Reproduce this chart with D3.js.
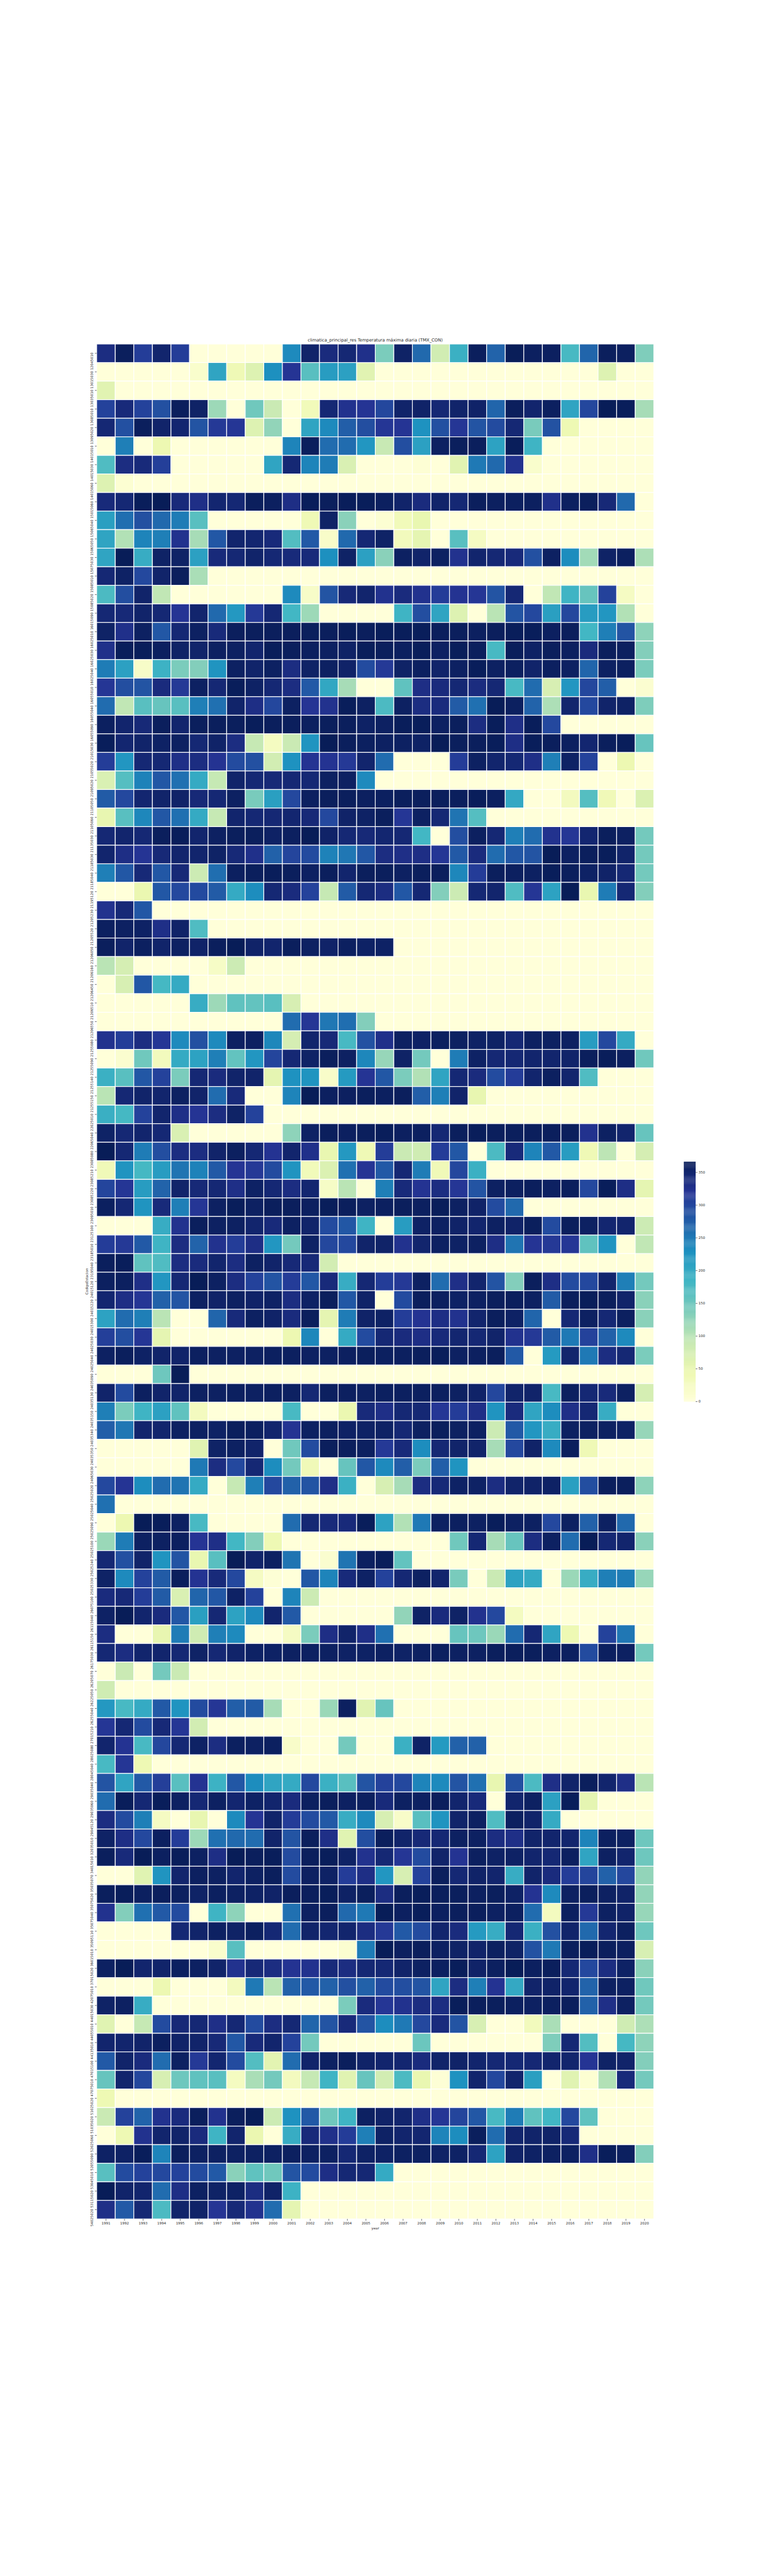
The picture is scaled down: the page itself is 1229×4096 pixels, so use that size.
<!DOCTYPE html>
<html><head><meta charset="utf-8">
<script src="https://cdn.jsdelivr.net/npm/d3@7"></script>
<style>html,body{margin:0;padding:0;background:#fff}svg{display:block}text{font-family:"DejaVu Sans",sans-serif;fill:#262626}</style>
</head><body><svg id="c"></svg>
<script>
const chartTitle = "climatica_principal_res Temperatura máxima diaria (TMX_CON)";
const yearLabels = [1991,1992,1993,1994,1995,1996,1997,1998,1999,2000,2001,2002,2003,2004,2005,2006,2007,2008,2009,2010,2011,2012,2013,2014,2015,2016,2017,2018,2019,2020];
const stationCodes = ["12045010","13015030","13035010","13085010","13095020","14015010","14015030","14015060","15015060","15065040","15065050","15075030","15085010","15085020","16015090","16025010","16025030","16025040","16055010","16055040","16055090","21015030","21055020","21095020","21105050","21105060","21135030","21185030","21185040","21195120","21205230","21205520","21206050","21206160","21206450","21206510","21206550","21255080","21255090","21255140","21255150","22025010","22065040","23085080","23085210","23085220","23095010","23125100","23185010","23195040","24015120","24015220","24015300","24025030","24025040","24035090","24035130","24035150","24035340","24035350","24065030","25025020","25025040","25025090","25025100","25025240","25025330","26075100","26115040","26115150","26175030","26205070","26225050","26255040","27015210","28025080","28045040","29035040","29035060","29045120","32035010","34015010","35035070","35075020","35075040","35095110","36015010","37015020","42075010","44015030","44055010","44135010","47015100","47075010","51025020","51035020","52025060","52055090","53045010","53115020","54025020"];
// Days per station (rows) and year (columns); columns left out at the end of a row are zero.
const daysByStation = [
[335,362,310,350,310,0,0,0,0,0,235,352,338,345,328,140,355,265,80,190,362,270,365,360,360,178,268,362,360,137],
[0,0,0,0,0,15,205,40,65,230,320,165,215,210,60,0,0,0,0,0,0,0,0,0,0,0,0,65],
[60],
[305,340,305,290,362,355,118,0,148,88,0,35,345,325,320,300,352,354,345,352,354,268,362,350,360,205,300,366,364,112],
[345,290,362,352,348,285,315,318,65,125,0,205,235,275,292,318,320,228,290,318,285,295,345,142,288,42],
[0,245,0,45,0,0,0,0,0,0,240,362,262,262,222,90,292,210,358,362,362,208,364,185],
[172,335,340,308,0,0,0,0,0,205,345,240,248,70,0,0,0,6,0,60,250,265,325,15],
[65,8],
[340,345,364,366,340,330,348,345,362,360,332,364,362,364,364,360,352,338,352,345,362,360,360,360,328,360,362,342,265],
[212,260,290,265,248,165,0,0,0,0,0,40,355,130,0,8,35,50],
[205,105,240,245,325,112,282,350,348,340,170,280,18,265,345,355,32,55,0,165,25],
[205,366,195,355,355,210,340,345,352,345,340,340,230,355,210,130,358,352,358,325,350,345,340,290,358,232,115,355,360,108],
[345,356,298,352,362,110],
[175,292,352,95,0,0,0,0,0,0,235,20,285,342,350,325,338,325,312,322,318,285,345,0,95,185,155,305,25],
[345,342,352,345,320,350,265,220,315,345,182,118,0,0,0,0,185,292,205,65,0,100,285,298,212,300,215,222,105],
[355,328,358,282,345,358,340,362,362,362,362,362,362,364,362,364,364,364,362,362,360,362,364,364,360,362,182,245,285,128],
[328,364,364,360,355,352,358,358,350,364,362,360,358,355,364,362,360,364,358,364,362,178,364,356,362,360,338,362,360,135],
[248,210,20,188,140,135,225,358,352,358,335,355,358,354,295,315,355,360,352,358,364,358,360,352,360,358,268,358,360,140],
[318,292,285,338,315,358,345,364,356,345,335,280,202,112,0,0,160,332,338,345,336,345,178,262,72,222,300,275,0,10],
[262,95,165,155,165,245,258,352,332,300,358,320,325,364,358,175,358,335,338,278,258,366,360,270,108,350,298,352,356,138],
[360,350,342,362,350,362,362,362,364,362,362,360,362,362,356,358,364,364,358,362,335,364,330,364,298],
[364,348,352,356,358,345,354,335,92,28,88,225,366,362,360,358,358,356,366,362,362,364,332,364,362,360,348,362,364,155],
[310,222,345,345,330,335,322,295,290,78,228,322,322,315,350,262,0,0,0,312,358,350,345,330,245,356,305,0,45],
[70,168,242,282,258,198,92,352,345,342,345,345,358,358,235],
[278,298,348,352,354,342,345,358,142,212,298,360,362,362,360,360,362,362,362,362,364,360,200,0,0,30,168,38,0,68],
[52,165,238,282,258,198,92,350,345,345,348,342,298,354,356,362,318,358,345,255,168],
[345,350,345,362,364,350,358,362,362,356,360,366,354,345,342,348,345,182,0,292,360,345,245,262,325,318,348,362,358,145],
[350,332,320,342,350,350,355,342,328,272,302,295,242,252,282,335,330,332,318,280,338,262,282,285,366,358,362,364,352,145],
[245,282,342,282,342,85,260,360,362,364,362,358,362,350,362,362,358,362,362,238,312,362,360,358,364,362,356,354,345,145],
[0,0,48,282,298,296,278,198,232,345,338,305,92,278,345,335,282,345,135,85,345,350,172,318,208,366,50,248,345,135],
[325,342,282],
[360,358,356,330,354,172],
[362,352,360,352,358,354,362,366,354,350,362,358,354,360,356,356],
[100,75,0,0,0,0,22,85],
[0,72,282,180,198],
[0,0,0,0,0,195,118,160,158,165,72],
[0,0,0,0,0,0,0,0,0,0,262,318,252,260,135],
[325,310,335,318,235,290,235,358,358,238,75,350,342,178,288,328,358,356,360,358,356,356,345,358,358,358,215,298,198],
[0,12,148,32,198,208,245,158,222,302,345,355,362,358,238,122,355,145,0,248,356,345,345,350,350,352,362,364,360,148],
[190,165,282,305,140,345,338,352,352,55,228,225,18,218,320,282,140,105,205,345,338,295,312,350,360,350,172],
[100,345,352,350,358,352,262,340,0,0,240,366,360,360,362,360,362,275,245,352,52],
[192,180,305,350,330,320,335,355,305],
[355,345,350,345,70,0,0,0,0,0,128,356,362,360,362,364,360,360,345,362,364,362,362,362,362,362,325,358,350,155],
[366,345,248,292,335,335,352,360,345,322,350,328,50,220,40,310,88,82,312,282,0,175,340,240,280,215,40,98,0,75],
[38,225,180,215,255,242,280,320,315,295,225,35,68,258,320,280,345,248,38,300,190],
[302,318,215,270,352,342,345,330,356,345,335,348,22,100,5,245,340,322,335,318,285,358,360,362,358,362,298,364,332,55],
[360,345,225,340,245,318,358,364,358,362,362,360,364,362,358,360,362,360,364,358,354,295,265],
[0,0,0,195,325,362,358,358,350,340,358,352,295,282,185,0,215,356,358,354,350,358,354,362,295,362,358,348,350,85],
[312,315,280,185,335,270,325,310,332,222,145,356,300,298,352,354,325,350,358,356,358,332,255,320,315,318,160,225,0,95],
[362,364,160,172,335,338,350,335,358,352,342,342,78],
[360,360,330,222,345,366,358,335,305,285,312,282,340,195,345,310,315,358,262,330,350,285,135,362,332,295,298,350,245,145],
[348,332,318,272,285,358,354,358,354,356,335,356,362,282,354,0,295,362,360,356,358,362,362,358,278,362,364,362,352,130],
[208,262,245,100,0,0,268,340,358,354,338,362,55,248,354,356,310,322,332,325,350,362,356,268,0,345,358,345,360,130],
[308,292,318,55,0,0,0,0,0,0,45,238,0,198,295,345,338,332,340,348,345,352,325,315,278,250,305,272,235],
[358,362,356,352,352,360,358,358,358,360,360,358,358,360,362,360,360,362,364,358,360,362,280,0,218,350,250,335,345,140],
[0,0,0,150,366],
[352,295,360,352,352,358,358,360,358,360,358,345,360,360,358,360,360,360,360,358,354,300,352,352,178,360,345,340,358,75],
[245,140,185,210,160,30,0,0,0,0,178,0,0,48,340,330,345,345,318,312,330,225,338,205,232,330,345,195],
[275,252,350,350,358,358,356,362,360,350,322,358,360,356,356,356,345,358,362,358,358,85,280,222,195,358,358,358,356,122],
[0,0,0,0,0,62,355,358,352,0,148,295,362,362,360,315,340,232,345,352,352,112,298,354,235,362,40],
[0,0,0,0,0,250,335,298,345,232,145,38,0,155,282,235,275,140,275,225],
[298,320,232,262,255,198,0,92,245,298,272,285,330,190,0,72,112,335,342,356,356,335,352,354,356,212,292,362,362,128],
[258],
[0,45,366,364,358,178,0,0,0,0,262,345,340,340,364,208,105,250,358,360,358,364,358,358,298,358,272,358,265],
[120,248,358,358,360,320,330,182,135,42,0,0,0,0,0,0,0,0,0,148,345,112,155,335,358,262,366,345,350,130],
[345,290,352,225,285,50,165,366,352,358,255,0,12,255,360,364,158],
[355,235,305,278,362,322,340,298,25,5,0,282,240,340,356,305,345,358,350,142,0,88,208,198,0,120,195,245,248,122],
[338,342,310,278,70,268,282,356,305,0,240,85],
[356,366,350,338,282,212,345,208,235,350,280,0,0,0,0,0,125,355,338,355,325,298,28],
[335,0,0,52,248,82,245,235,0,0,25,140,332,352,330,258,0,0,0,155,150,120,262,345,205,42,0,305,252],
[345,335,350,350,345,355,345,352,356,356,358,358,358,356,356,358,355,358,360,358,358,362,362,362,358,360,295,360,358,145],
[0,88,0,145,88],
[82],
[220,178,198,280,225,295,318,275,278,112,0,0,120,360,60,155],
[318,345,295,342,318,78],
[350,322,178,300,345,356,335,360,358,360,18,0,0,145,0,0,190,355,218,272,272],
[178,318,42],
[285,205,280,308,165,322,188,282,232,205,198,298,190,165,285,305,298,240,235,285,258,52,290,175,330,352,362,350,330,100],
[262,364,345,364,358,345,358,348,356,350,338,360,362,358,360,340,358,358,362,350,340,0,350,358,210,364,55],
[335,295,245,25,0,52,0,235,320,352,312,295,280,195,235,72,18,165,225,352,358,172,360,352,198],
[355,332,298,360,312,118,258,265,262,352,285,362,330,62,292,362,352,342,345,358,358,335,330,352,350,350,240,360,358,150],
[362,340,366,360,364,358,332,366,362,364,295,362,364,355,325,345,318,295,352,322,360,356,356,350,345,360,205,358,350,150],
[0,0,62,225,350,360,358,350,358,362,295,358,356,312,332,222,72,305,362,345,354,350,195,352,338,312,302,272,300,125],
[362,364,360,362,360,355,360,358,356,354,362,362,364,356,362,335,362,364,362,362,360,362,356,322,235,358,362,358,354,125],
[325,135,258,280,295,0,185,128,0,0,258,358,362,265,250,366,360,364,360,362,362,358,360,262,30,360,315,358,354,122],
[0,0,0,0,345,352,358,355,360,345,262,352,348,350,335,315,280,295,350,338,218,195,345,190,290,352,265,348,360,150],
[0,0,0,0,0,0,15,165,0,0,0,0,0,10,248,366,360,362,358,355,352,360,355,288,250,362,364,362,360,72],
[358,366,350,352,360,358,352,325,342,335,322,325,340,335,345,345,352,358,360,364,354,360,366,360,362,345,298,335,356,130],
[0,0,0,45,0,0,0,30,250,100,272,280,272,290,272,295,292,285,205,335,245,322,200,352,354,350,270,358,358,148],
[355,358,195,0,0,0,0,0,0,0,0,0,0,140,338,318,325,335,335,364,362,362,360,358,360,362,272,330,358,145],
[62,0,92,295,342,345,330,345,295,335,345,268,285,340,285,232,250,298,338,285,72,0,0,32,110,0,0,0,82,108],
[350,350,352,360,354,352,342,282,340,350,305,145,0,0,0,0,0,152,0,0,0,0,0,0,138,345,170,0,180,128],
[280,352,338,262,358,315,348,295,170,58,262,352,358,362,354,350,348,338,352,354,350,345,345,345,350,350,320,355,352,135],
[155,350,300,72,150,160,165,28,110,145,30,92,185,62,155,78,175,50,5,228,350,300,350,212,0,62,8,105,340,145],
[42],
[88,305,270,325,338,362,325,362,366,85,228,280,148,185,358,354,350,330,318,302,282,178,248,160,182,298,160],
[0,42,325,350,352,338,185,350,48,0,195,340,328,312,245,356,350,348,240,232,362,262,350,352,354,342],
[356,356,364,240,362,358,358,358,358,358,360,358,358,345,356,356,358,358,355,356,345,208,354,356,358,358,330,364,360,135],
[165,295,305,298,305,295,280,130,160,148,285,295,332,345,345,198],
[366,352,350,262,332,358,355,356,335,354,188],
[330,280,345,175,352,354,320,342,325,262,55]
];
const colorbarTicks = [0,50,100,150,200,250,300,350];
const valueMax = 366;

const W = 2160, H = 7200;
const plot = {left:270, right:1827, top:961.5, bottom:6202};
const bar = {left:1911, right:1944, top:3247, bottom:3917};
const TXT = 9.6;

const svg = d3.select("#c").attr("width",1229).attr("height",4096).attr("viewBox",`0 0 ${W} ${H}`);

const ramp = d3.schemeYlGnBu[9];
const color = d3.scaleLinear().domain(ramp.map((_,i)=>i/(ramp.length-1)*valueMax)).range(ramp).clamp(true);
const x = d3.scaleBand().domain(yearLabels).range([plot.left,plot.right]);
const y = d3.scaleBand().domain(stationCodes).range([plot.top,plot.bottom]);

const cells = [];
stationCodes.forEach((code,i)=>yearLabels.forEach((yr,j)=>{
  const v = daysByStation[i][j];
  cells.push({code,yr,v:v===undefined?0:v});
}));
svg.append("g").selectAll("rect").data(cells).join("rect")
  .attr("x",d=>x(d.yr)).attr("y",d=>y(d.code))
  .attr("width",x.bandwidth()).attr("height",y.bandwidth())
  .attr("fill",d=>color(d.v)).attr("stroke","#fff").attr("stroke-width",2);

// x axis
const ax = svg.append("g").attr("transform",`translate(0,${plot.bottom})`)
  .call(d3.axisBottom(x).tickSize(5).tickPadding(3));
ax.select(".domain").remove();
ax.selectAll("line").attr("stroke","#262626").attr("stroke-width",1.1);
ax.selectAll("text").attr("font-size",TXT).attr("font-family","DejaVu Sans").attr("fill","#262626");

// y axis: rotated labels whose end sits at the tick
const ay = svg.append("g").attr("transform",`translate(${plot.left},0)`)
  .call(d3.axisLeft(y).tickSize(5));
ay.select(".domain").remove();
ay.selectAll("line").attr("stroke","#262626").attr("stroke-width",1.1);
ay.selectAll("text").attr("font-size",TXT).attr("font-family","DejaVu Sans").attr("fill","#262626")
  .attr("x",null).attr("dy",null)
  .attr("text-anchor","end").attr("dominant-baseline","central")
  .attr("transform","translate(-14,-2) rotate(-90)");

// titles
const mid = (plot.left+plot.right)/2;
svg.append("text").attr("x",mid).attr("y",954).attr("text-anchor","middle").attr("font-size",12).text(chartTitle);
svg.append("text").attr("x",mid).attr("y",6232).attr("text-anchor","middle").attr("font-size",TXT).text("year");
svg.append("text").attr("transform",`translate(245.5,${(plot.top+plot.bottom)/2}) rotate(-90)`).attr("text-anchor","middle").attr("font-size",TXT).text("CodigoEstacion");

// colorbar
const cy = d3.scaleLinear().domain([0,valueMax]).range([bar.bottom,bar.top]);
const steps = d3.range(0,valueMax,1);
svg.append("g").selectAll("rect").data(steps).join("rect")
  .attr("x",bar.left).attr("width",bar.right-bar.left)
  .attr("y",d=>cy(d+1)).attr("height",d=>cy(d)-cy(d+1)+0.6)
  .attr("fill",d=>color(d+0.5));
const ac = svg.append("g").attr("transform",`translate(${bar.right},0)`)
  .call(d3.axisRight(cy).tickValues(colorbarTicks).tickSize(5).tickPadding(3));
ac.select(".domain").remove();
ac.selectAll("line").attr("stroke","#262626").attr("stroke-width",1.1);
ac.selectAll("text").attr("font-size",TXT).attr("font-family","DejaVu Sans").attr("fill","#262626");
</script></body></html>
